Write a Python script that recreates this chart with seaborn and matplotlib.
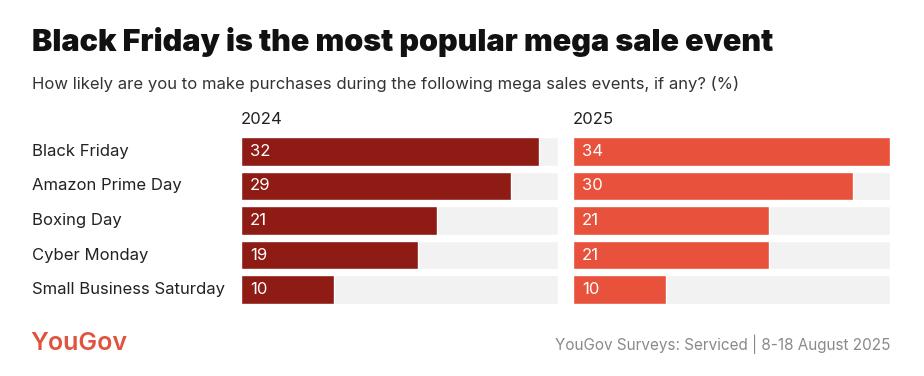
import matplotlib
matplotlib.use("Agg")
import matplotlib.pyplot as plt
import seaborn as sns
import pandas as pd

categories = ["Black Friday", "Amazon Prime Day", "Boxing Day", "Cyber Monday", "Small Business Saturday"]
values_2024 = [32, 29, 21, 19, 10]
values_2025 = [34, 30, 21, 21, 10]
years = ["2024", "2025"]
axis_max = 34

sns.set_theme(style="white")
plt.rcParams['font.family'] = ['Inter', 'DejaVu Sans']

W, H = 924, 376
fig = plt.figure(figsize=(W / 100, H / 100), dpi=100)
fig.patch.set_facecolor("white")

colors = {"2024": "#8e1b14", "2025": "#e8513b"}
bg_color = "#f2f2f2"

def px_axes(x0, y0, w, h):
    return fig.add_axes([x0 / W, 1 - (y0 + h) / H, w / W, h / H])

panels = [(241, values_2024, "2024"), (573, values_2025, "2025")]
bar_frac = 29 / 34.6
top, bottom = 137 - (34.6 - 29) / 2, 304 + (34.6 - 29) / 2

for i, (x0, vals, yr) in enumerate(panels):
    ax = px_axes(x0, top, 317, bottom - top)
    df = pd.DataFrame({"cat": categories, "val": vals, "bg": [axis_max] * len(categories)})
    sns.barplot(data=df, y="cat", x="bg", color=bg_color, width=bar_frac, ax=ax, orient="h", saturation=1)
    sns.barplot(data=df, y="cat", x="val", color=colors[yr], width=bar_frac, ax=ax, orient="h", saturation=1)
    ax.set_xlim(0, axis_max)
    ax.set_ylim(len(categories) - 0.5, -0.5)
    for s in ax.spines.values():
        s.set_visible(False)
    ax.set_xticks([])
    ax.set_xlabel("")
    ax.set_ylabel("")
    for j, v in enumerate(vals):
        ax.text(0.95, j, str(v), color="white", fontsize=12, va="center", ha="left")
    if i == 0:
        ax.set_yticks(range(len(categories)))
        ax.set_yticklabels([])
        ax.tick_params(axis="y", length=0)
        for j, c in enumerate(categories):
            ax.annotate(c, xy=(0, j), xycoords=("axes fraction", "data"),
                        xytext=(32 - 241, 0), textcoords="offset pixels",
                        ha="left", va="center", fontsize=12, color="#222222")
    else:
        ax.set_yticks([])
    ax.annotate(yr, xy=(0, 1), xycoords="axes fraction", xytext=(0, 7), textcoords="offset pixels",
                ha="left", va="bottom", fontsize=12, color="#222222")

fig.text(32 / W, 1 - 42 / H, "Black Friday is the most popular mega sale event",
         fontsize=22, fontweight=900, color="#111111", ha="left", va="center")
fig.text(32 / W, 1 - 84 / H, "How likely are you to make purchases during the following mega sales events, if any? (%)",
         fontsize=12, color="#333333", ha="left", va="center")
fig.text(30 / W, 1 - 344 / H, "YouGov", fontsize=18, fontweight="semibold", color="#e0533f", ha="left", va="center")
fig.text(890 / W, 1 - 344 / H, "YouGov Surveys: Serviced | 8-18 August 2025",
         fontsize=11, color="#8a8a8a", ha="right", va="center")

fig.savefig("out.png", dpi=100, facecolor="white")
